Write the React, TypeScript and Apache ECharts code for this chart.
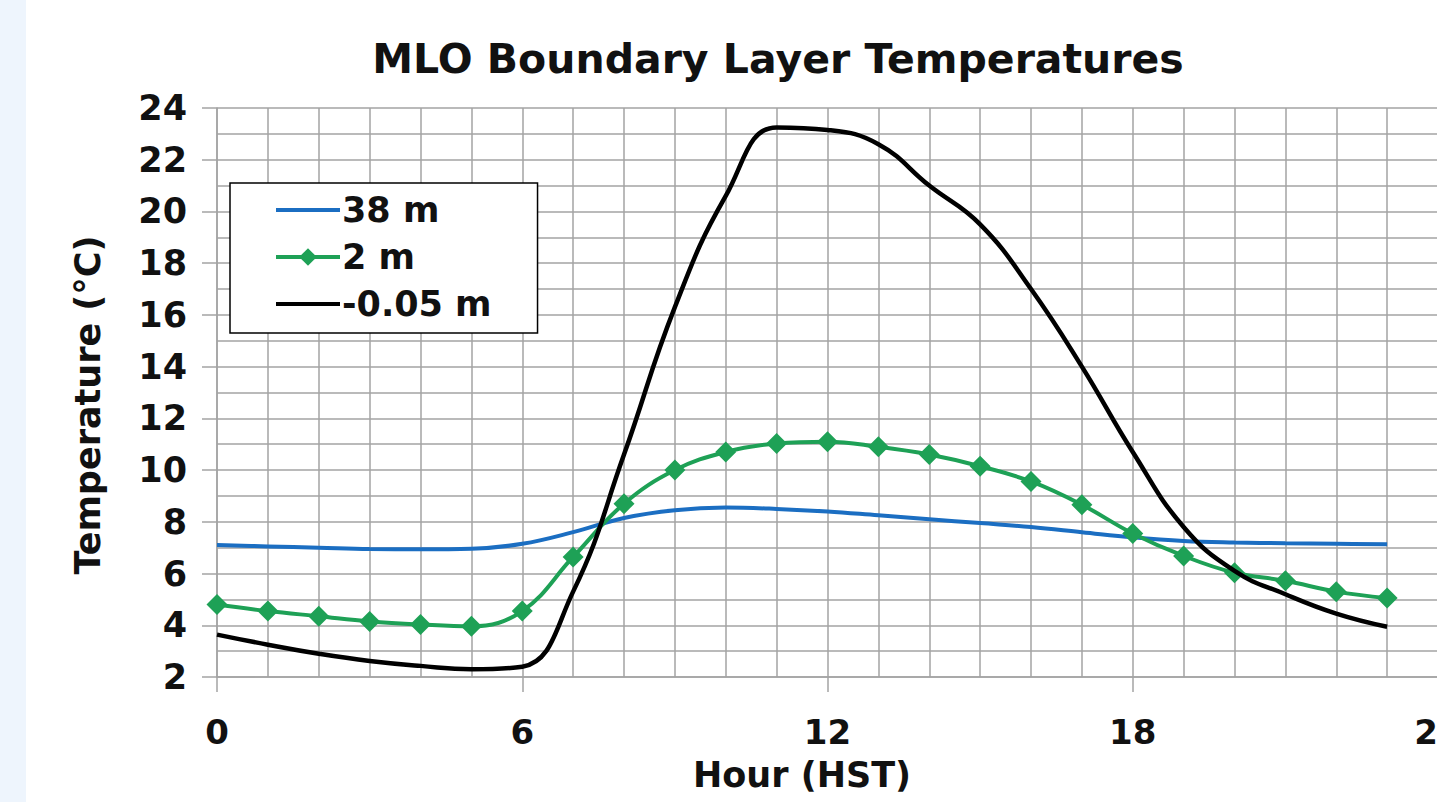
import React, { useEffect, useRef } from "react";
import * as echarts from "echarts";

const hours = [0, 1, 2, 3, 4, 5, 6, 7, 8, 9, 10, 11, 12, 13, 14, 15, 16, 17, 18, 19, 20, 21, 22, 23];
const t38m = [7.1, 7.05, 7.0, 6.95, 6.94, 6.96, 7.15, 7.6, 8.15, 8.45, 8.55, 8.5, 8.4, 8.25, 8.1, 7.95, 7.8, 7.6, 7.4, 7.26, 7.2, 7.17, 7.15, 7.13];
const t2m = [4.8, 4.55, 4.35, 4.15, 4.03, 3.96, 4.55, 6.64, 8.7, 10.0, 10.7, 11.03, 11.1, 10.9, 10.6, 10.15, 9.56, 8.66, 7.55, 6.68, 6.03, 5.72, 5.3, 5.05];
const tSoil = [3.64, 3.25, 2.9, 2.62, 2.43, 2.3, 2.4, 5.3, 10.6, 16.3, 20.6, 23.25, 23.15, 22.6, 21.0, 19.5, 17.0, 14.0, 10.7, 7.8, 6.1, 5.2, 4.45, 3.94];
const seriesNames = ["38 m", "2 m", "-0.05 m"];

const FONT = "DejaVu Sans";
const GRID_COLOR = "#a3a3a3";

export default function App() {
  const ref = useRef<HTMLDivElement>(null);
  useEffect(() => {
    if (!ref.current) return;
    const chart = echarts.init(ref.current, undefined, { renderer: "svg" });
    const pair = (ys: number[]) => hours.map((h, i) => [h, ys[i]]);
    chart.setOption({
      animation: false,
      backgroundColor: "#ffffff",
      textStyle: { fontFamily: FONT },
      title: {
        text: "MLO Boundary Layer Temperatures",
        left: 773,
        top: 33,
        textAlign: "center",
        textStyle: { fontFamily: FONT, fontWeight: "bold", fontSize: 41, color: "#111" },
      },
      graphic: [
        { type: "rect", shape: { x: 0, y: 0, width: 26, height: 802 }, style: { fill: "#eef5fd" }, z: -10 },
        {
          type: "text",
          x: 802,
          y: 775,
          style: { text: "Hour (HST)", font: `bold 35px "${FONT}"`, fill: "#111", align: "center", verticalAlign: "middle" },
        },
        {
          type: "text",
          x: 88,
          y: 405,
          rotation: Math.PI / 2,
          style: { text: "Temperature (°C)", font: `bold 35px "${FONT}"`, fill: "#111", align: "center", verticalAlign: "middle" },
        },
      ],
      legend: {
        left: 230,
        top: 183,
        orient: "vertical",
        data: [
          { name: seriesNames[0], itemStyle: { opacity: 0 } },
          { name: seriesNames[1] },
          { name: seriesNames[2], itemStyle: { opacity: 0 } },
        ],
        backgroundColor: "#ffffff",
        borderColor: "#000000",
        borderWidth: 1.5,
        borderRadius: 0,
        padding: [7, 46, 9, 44],
        itemGap: 7,
        itemWidth: 64,
        itemHeight: 22,
        lineStyle: { width: 4 },
        textStyle: { fontFamily: FONT, fontWeight: "bold", fontSize: 35, color: "#111", lineHeight: 40, padding: [0, 0, 0, -3] },
      },
      grid: { left: 217, top: 108, width: 1221, height: 569, outerBoundsMode: "none" },
      xAxis: {
        type: "value",
        min: 0,
        max: 24,
        interval: 6,
        axisLine: { show: true, lineStyle: { color: GRID_COLOR, width: 1.5 } },
        axisTick: { show: true, length: 15, lineStyle: { color: GRID_COLOR, width: 1.5 } },
        axisLabel: { showMaxLabel: true, margin: 38, fontFamily: FONT, fontWeight: "bold", fontSize: 34, color: "#111" },
        splitLine: { show: true, lineStyle: { color: GRID_COLOR, width: 1.5 } },
        minorTick: { show: false, splitNumber: 6 },
        minorSplitLine: { show: true, lineStyle: { color: GRID_COLOR, width: 1.5 } },
      },
      yAxis: {
        type: "value",
        min: 2,
        max: 24,
        interval: 2,
        axisLine: { show: true, lineStyle: { color: GRID_COLOR, width: 1.5 } },
        axisTick: { show: true, length: 15, lineStyle: { color: GRID_COLOR, width: 1.5 } },
        axisLabel: { margin: 30, fontFamily: FONT, fontWeight: "bold", fontSize: 35, color: "#111" },
        splitLine: { show: true, lineStyle: { color: GRID_COLOR, width: 1.5 } },
        minorTick: { show: false, splitNumber: 2 },
        minorSplitLine: { show: true, lineStyle: { color: GRID_COLOR, width: 1.5 } },
      },
      series: [
        {
          name: seriesNames[0],
          type: "line",
          data: pair(t38m),
          smooth: 0.4,
          symbol: "none",
          lineStyle: { color: "#1b6ec2", width: 4 },
          itemStyle: { color: "#1b6ec2" },
          z: 3,
        },
        {
          name: seriesNames[1],
          type: "line",
          data: pair(t2m),
          smooth: 0.4,
          symbol: "diamond",
          symbolSize: 21,
          lineStyle: { color: "#1ea156", width: 4 },
          itemStyle: { color: "#1ea156" },
          z: 4,
        },
        {
          name: seriesNames[2],
          type: "line",
          data: pair(tSoil),
          smooth: 0.45,
          symbol: "none",
          lineStyle: { color: "#000000", width: 4.5 },
          itemStyle: { color: "#000000" },
          z: 5,
        },
      ],
    });
    return () => chart.dispose();
  }, []);
  return (
    <div style={{ position: "fixed", left: 0, top: 0, width: 1437, height: 802, background: "#fff" }}>
      <div ref={ref} style={{ width: 1437, height: 802 }} />
    </div>
  );
}
